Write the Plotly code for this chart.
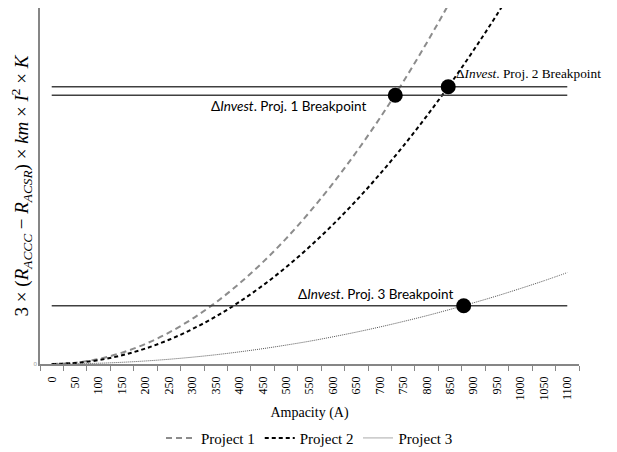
import plotly.graph_objects as go

# Ampacity categories (A)
ampacity = [0, 50, 100, 150, 200, 250, 300, 350, 400, 450, 500, 550,
            600, 650, 700, 750, 800, 850, 900, 950, 1000, 1050, 1100]

# Series values (arbitrary units)
project1 = [0, 1.25, 5.02, 11.3, 20.1, 31.4, 45.2, 61.5, 80.3, 101.6, 125.4, 151.8,
            180.6, 212.0, 245.8, 282.2, 321.1, 362.5, 406.4]
project2 = [0, 0.97, 3.87, 8.71, 15.5, 24.2, 34.9, 47.4, 62.0, 78.4, 96.8, 117.2,
            139.4, 163.6, 189.8, 217.9, 247.9, 279.8, 313.7, 349.5, 387.3]
project3 = [0, 0.19, 0.76, 1.70, 3.02, 4.72, 6.80, 9.25, 12.1, 15.3, 18.9, 22.8,
            27.2, 31.9, 37.0, 42.5, 48.3, 54.6, 61.2, 68.1, 75.5, 83.2, 91.4]

# Breakpoints (ampacity, level)
bp_names = ["Proj. 1", "Proj. 2", "Proj. 3"]
bp_amp = [733, 846, 879]
bp_level = [268.7, 277.3, 58.3]

line_x = [0, 1100]
y_max = 356

fig = go.Figure()

fig.add_trace(go.Scatter(x=ampacity[:len(project1)], y=project1, mode="lines", name="Project 1",
                         line=dict(color="#8c8c8c", width=2, dash="6px,4px", shape="spline")))
fig.add_trace(go.Scatter(x=ampacity[:len(project2)], y=project2, mode="lines", name="Project 2",
                         line=dict(color="#000000", width=2, dash="4px,3px", shape="spline")))
fig.add_trace(go.Scatter(x=ampacity, y=project3, mode="lines", name="Project 3",
                         line=dict(color="#555555", width=1, dash="1px,1px", shape="spline")))

for lvl in bp_level:
    fig.add_trace(go.Scatter(x=line_x, y=[lvl, lvl], mode="lines", showlegend=False,
                             line=dict(color="#404040", width=1.5), hoverinfo="skip"))

fig.add_trace(go.Scatter(x=bp_amp, y=bp_level, mode="markers", showlegend=False,
                         marker=dict(color="#000000", size=15)))

calibri = "Lato, 'Open Sans', sans-serif"
times = "'Liberation Serif', 'DejaVu Serif', serif"

fig.add_annotation(x=bp_amp[0], y=bp_level[0], text="Δ<i>Invest</i>. " + bp_names[0] + " Breakpoint",
                   showarrow=False, xanchor="right", yanchor="middle", xshift=-26, yshift=-11,
                   font=dict(family=calibri, size=13.5, color="#000"))
fig.add_annotation(x=bp_amp[1], y=bp_level[1], text="Δ<i>Invest</i>. " + bp_names[1] + " Breakpoint",
                   showarrow=False, xanchor="left", yanchor="middle", xshift=6, yshift=13,
                   font=dict(family=times, size=13.3, color="#000"))
fig.add_annotation(x=bp_amp[2], y=bp_level[2], text="Δ<i>Invest</i>. " + bp_names[2] + " Breakpoint",
                   showarrow=False, xanchor="right", yanchor="middle", xshift=-8, yshift=12,
                   font=dict(family=calibri, size=13.5, color="#000"))

fig.update_layout(
    width=609, height=444,
    margin=dict(l=32, r=38, t=0, b=88, autoexpand=False),
    plot_bgcolor="white", paper_bgcolor="white",
    showlegend=True,
    legend=dict(orientation="h", x=0.5, xanchor="center", y=-0.162, yanchor="top",
                font=dict(family=times, size=15, color="#000"), itemwidth=30,
                bgcolor="rgba(0,0,0,0)"),
    xaxis=dict(range=[-25, 1125], tickmode="array", tickvals=ampacity,
               ticktext=[str(a) for a in ampacity], tickangle=-90, automargin=False,
               tickfont=dict(family=times, size=12, color="#000"),
               ticks="outside", ticklen=6, tickcolor="rgba(0,0,0,0)",
               minor=dict(ticks="outside", tick0=25, dtick=50, ticklen=5, tickcolor="#868686",
                          tickwidth=1, showgrid=False),
               showline=True, linecolor="#868686", linewidth=1.5, showgrid=False, zeroline=False,
               title=dict(text="Ampacity (A)", font=dict(family=times, size=14, color="#000"),
                          standoff=8)),
    yaxis=dict(range=[0, y_max], tickmode="array", tickvals=[0], ticktext=["0"], automargin=False,
               tickfont=dict(size=6, color="#888"), ticks="",
               showline=True, linecolor="#868686", linewidth=1.5, showgrid=False, zeroline=False,
               title=dict(text="3 × (<i>R</i><sub><i>ACCC</i></sub> − <i>R</i><sub><i>ACSR</i></sub>) × <i>km</i> × <i>I</i><sup>2</sup> × <i>K</i>",
                          font=dict(family=times, size=19, color="#000"), standoff=5)),
)

fig.write_html("out.html")
